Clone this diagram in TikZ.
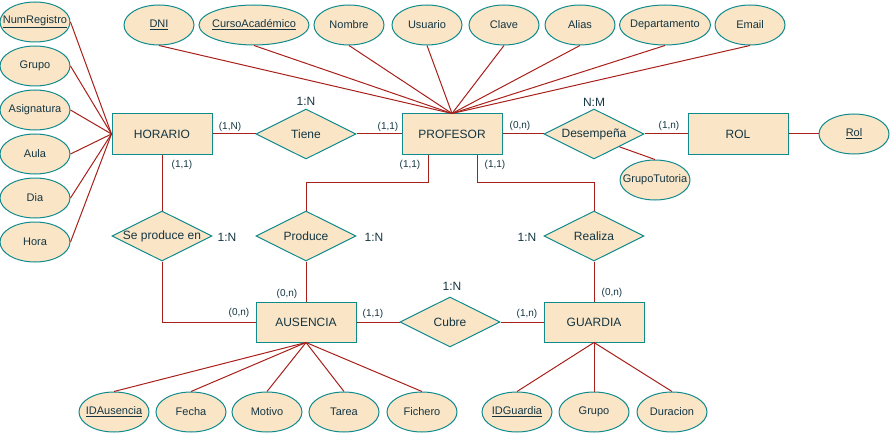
\documentclass[tikz,border=0pt]{standalone}
\usepackage{fontspec}
\setmainfont{Liberation Sans}
\usetikzlibrary{shapes.geometric,calc}
\definecolor{efill}{HTML}{FAE5C7}
\definecolor{estroke}{HTML}{0F8B8D}
\definecolor{etext}{HTML}{143642}
\definecolor{eline}{HTML}{A8201A}
\newcommand\zw[1]{\makebox[0pt]{#1}}
\newcommand\fsz[1]{\fontsize{#1}{#1}\selectfont}
\tikzset{
  ent/.style={rectangle, draw=estroke, fill=efill, line width=1pt, minimum width=100pt, minimum height=40pt, inner sep=0pt, text=etext, font=\fsz{12}},
  rel/.style={diamond, draw=estroke, fill=efill, line width=1pt, minimum width=100pt, minimum height=50pt, inner sep=0pt, text=etext, font=\fsz{12}},
  att/.style={ellipse, draw=estroke, fill=efill, line width=1pt, minimum width=70pt, minimum height=40pt, inner sep=0pt, text=etext, font=\fsz{11}},
  card/.style={text=etext, font=\fsz{10}, inner sep=0pt},
  ratio/.style={text=etext, font=\fsz{12}, inner sep=0pt},
  conn/.style={draw=eline, line width=1pt}
}
\begin{document}
\begin{tikzpicture}[x=1pt,y=-1pt]
\useasboundingbox (0,0) rectangle (891,433);
% entities
\node[ent] (hor) at (162,134) {HORARIO};
\node[ent] (prof) at (452,134) {PROFESOR};
\node[ent] (rol) at (738,134) {ROL};
\node[ent] (aus) at (306,322) {AUSENCIA};
\node[ent] (gua) at (594,322) {GUARDIA};
% relations
\node[rel] (tiene) at (306,134) {\zw{Tiene}};
\node[rel] (des) at (594,134) {\zw{Desempeña}};
\node[rel] (sp) at (162,236) {\zw{Se produce en}};
\node[rel] (prod) at (306,236) {\zw{Produce}};
\node[rel] (real) at (594,236) {\zw{Realiza}};
\node[rel] (cub) at (450,322) {\zw{Cubre}};
% left attributes
\node[att] (numreg) at (35,22) {\zw{\underline{NumRegistro}}};
\node[att] (grupoh) at (35,66) {\zw{Grupo}};
\node[att] (asig) at (35,110) {\zw{Asignatura}};
\node[att] (aula) at (35,154) {\zw{Aula}};
\node[att] (dia) at (35,198) {\zw{Dia}};
\node[att] (hora) at (35,242) {\zw{Hora}};
% top attributes
\node[att] (dni) at (159,25) {\zw{\underline{DNI}}};
\node[att, minimum width=110pt] (curso) at (254,25) {\zw{\underline{CursoAcadémico}}};
\node[att] (nombre) at (349,25) {\zw{Nombre}};
\node[att] (usuario) at (427,25) {\zw{Usuario}};
\node[att] (clave) at (504,25) {\zw{Clave}};
\node[att] (alias) at (580,25) {\zw{Alias}};
\node[att, minimum width=91pt] (depto) at (665,25) {\zw{Departamento}};
\node[att] (email) at (750,25) {\zw{Email}};
% other attributes
\node[att] (rolat) at (854,134) {\zw{\underline{Rol}}};
\node[att] (gtut) at (655,180) {\zw{GrupoTutoria}};
\node[att] (idaus) at (114,412) {\zw{\underline{IDAusencia}}};
\node[att] (fecha) at (191,412) {\zw{Fecha}};
\node[att] (motivo) at (267,412) {\zw{Motivo}};
\node[att] (tarea) at (344,412) {\zw{Tarea}};
\node[att] (fichero) at (422,412) {\zw{Fichero}};
\node[att] (idgua) at (517,412) {\zw{\underline{IDGuardia}}};
\node[att] (grupog) at (594,412) {\zw{Grupo}};
\node[att] (dur) at (672,412) {\zw{Duracion}};
% connectors: attributes
\foreach \a in {numreg,grupoh,asig,aula,dia,hora} \draw[conn] (\a.east) -- (hor.west);
\foreach \a in {dni,curso,nombre,usuario,clave,alias,depto,email} \draw[conn] (\a.south) -- (prof.north);
\foreach \a in {idaus,fecha,motivo,tarea,fichero} \draw[conn] (\a.north) -- (aus.south);
\foreach \a in {idgua,grupog,dur} \draw[conn] (\a.north) -- (gua.south);
\draw[conn] (rol.east) -- (rolat.west);
\draw[conn] ($(des.east)!0.5!(des.south)$) -- (gtut.north);
% connectors: relations
\draw[conn] (hor.east) -- (tiene.west);
\draw[conn] (tiene.east) -- (prof.west);
\draw[conn] (prof.east) -- (des.west);
\draw[conn] (des.east) -- (rol.west);
\draw[conn] (hor.south) -- (sp.north);
\draw[conn] (sp.south) |- (aus.west);
\draw[conn] ([xshift=-24pt]prof.south) -- ++(0,28) -| (prod.north);
\draw[conn] (prod.south) -- (aus.north);
\draw[conn] ([xshift=25pt]prof.south) -- ++(0,28) -| (real.north);
\draw[conn] (real.south) -- (gua.north);
\draw[conn] (aus.east) -- (cub.west);
\draw[conn] (cub.east) -- (gua.west);
% cardinalities
\node[card] (c1) at (230,127) {(1,N)};
\node[card] (c2) at (388,127) {(1,1)};
\node[card] (c3) at (520,126) {(0,n)};
\node[card] (c4) at (669,126) {(1,n)};
\node[card] (c5) at (182,165) {(1,1)};
\node[card] (c6) at (410,165) {(1,1)};
\node[card] (c7) at (495,165) {(1,1)};
\node[card] (c8) at (287,294) {(0,n)};
\node[card] (c9) at (239,313) {(0,n)};
\node[card] (c10) at (373,314) {(1,1)};
\node[card] (c11) at (527,314) {(1,n)};
\node[card] (c12) at (612,293) {(0,n)};
% ratios
\node[ratio] (r1) at (306,101) {1:N};
\node[ratio] (r2) at (594,102) {N:M};
\node[ratio] (r3) at (227,237) {1:N};
\node[ratio] (r4) at (374,237) {1:N};
\node[ratio] (r5) at (527,237) {1:N};
\node[ratio] (r6) at (452,286) {1:N};
\end{tikzpicture}
\end{document}
